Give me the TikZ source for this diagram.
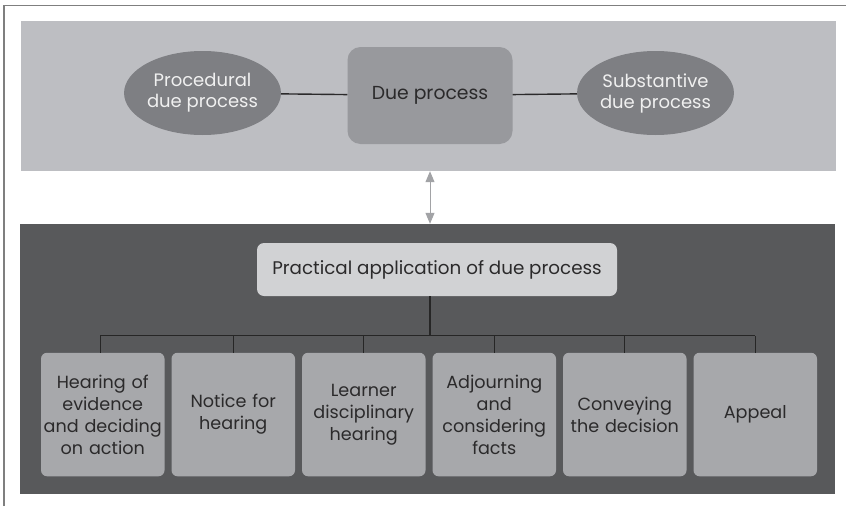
\documentclass[tikz,border=0pt]{standalone}
\usepackage{fontspec}
\setmainfont{Poppins}
\usepackage{tikz}
\usetikzlibrary{arrows.meta}
\usetikzlibrary{shapes.geometric}
\usetikzlibrary{positioning}
\definecolor{framegray}{HTML}{7F7F7F}
\definecolor{toppanel}{HTML}{BDBEC2}
\definecolor{ellgray}{HTML}{7E7F83}
\definecolor{duegray}{HTML}{98999D}
\definecolor{lowpanel}{HTML}{58595B}
\definecolor{pracgray}{HTML}{D1D2D4}
\definecolor{stepgray}{HTML}{A7A8AB}
\definecolor{arrowgray}{HTML}{A2A3A6}
\definecolor{txtdark}{HTML}{2B2A2B}
\tikzstyle{panel}=[inner sep=0pt,minimum width=815pt]
\tikzstyle{oval}=[ellipse,fill=ellgray,text=white!94!black,minimum width=151pt,minimum height=84pt,inner sep=0pt,align=center,font=\fontsize{18}{21}\selectfont]
\tikzstyle{stepbox}=[rounded corners=6pt,fill=stepgray,text=txtdark,minimum width=123.5pt,minimum height=123.5pt,text width=121pt,inner sep=1.25pt,align=center,font=\fontsize{17.6}{22}\selectfont]

\begin{document}
\begin{tikzpicture}[x=1pt,y=-1pt]
\useasboundingbox (0,0) rectangle (846,506);
\draw[framegray,line width=1.2pt] (4,506) -- (4,5.5) -- (846,5.5);

% top panel
\node [panel,fill=toppanel,minimum height=150pt] (top) at (428.5,96) {};
\node [rounded corners=13pt,fill=duegray,text=txtdark,minimum width=165pt,minimum height=97pt,font=\fontsize{18.8}{22}\selectfont] (due) at (430,95.5) {Due process};
\node [oval] (pro) at (202.5,93) {Procedural\\due process};
\node [oval] (sub) at (655.5,93) {Substantive\\due process};
\draw[txtdark,line width=1.4pt] (pro) -- (due);
\draw[txtdark,line width=1.4pt] (due) -- (sub);

% lower panel
\node [panel,fill=lowpanel,minimum height=270pt] (low) at (427.5,359) {};
\draw[{Triangle[length=11pt,width=9pt]}-{Triangle[length=11pt,width=9pt]},arrowgray,line width=1pt] (due |- top.south) -- (due |- low.north);

\node [rounded corners=7pt,fill=pracgray,text=txtdark,minimum width=360pt,minimum height=53pt,font=\fontsize{18.3}{22}\selectfont] (prac) at (437,269.5) {Practical application of due process};
\coordinate (bus) at (430,335.5);

\node [stepbox] (s1) at (102.75,414.5) {Hearing of\\evidence\\and deciding\\on action};
\node [stepbox] (s2) at (233.25,414.5) {Notice for\\hearing};
\node [stepbox] (s3) at (363.75,414.5) {Learner\\disciplinary\\hearing};
\node [stepbox] (s4) at (494.25,414.5) {Adjourning\\and\\considering\\facts};
\node [stepbox] (s5) at (624.75,414.5) {Conveying\\the decision};
\node [stepbox] (s6) at (755.25,414.5) {Appeal};

\draw[black!85,line width=1.3pt] (prac.south -| bus) -- (bus);
\draw[black!85,line width=1.3pt] ([xshift=-2.5pt]s1.north |- bus) -- (s6.north |- bus);
\foreach \i in {2,...,6}
  \draw[black!85,line width=1.3pt] (s\i.north) -- (s\i.north |- bus);
\draw[black!85,line width=1.3pt] ([xshift=-2.5pt]s1.north) -- ([xshift=-2.5pt]s1.north |- bus);
\end{tikzpicture}
\end{document}
